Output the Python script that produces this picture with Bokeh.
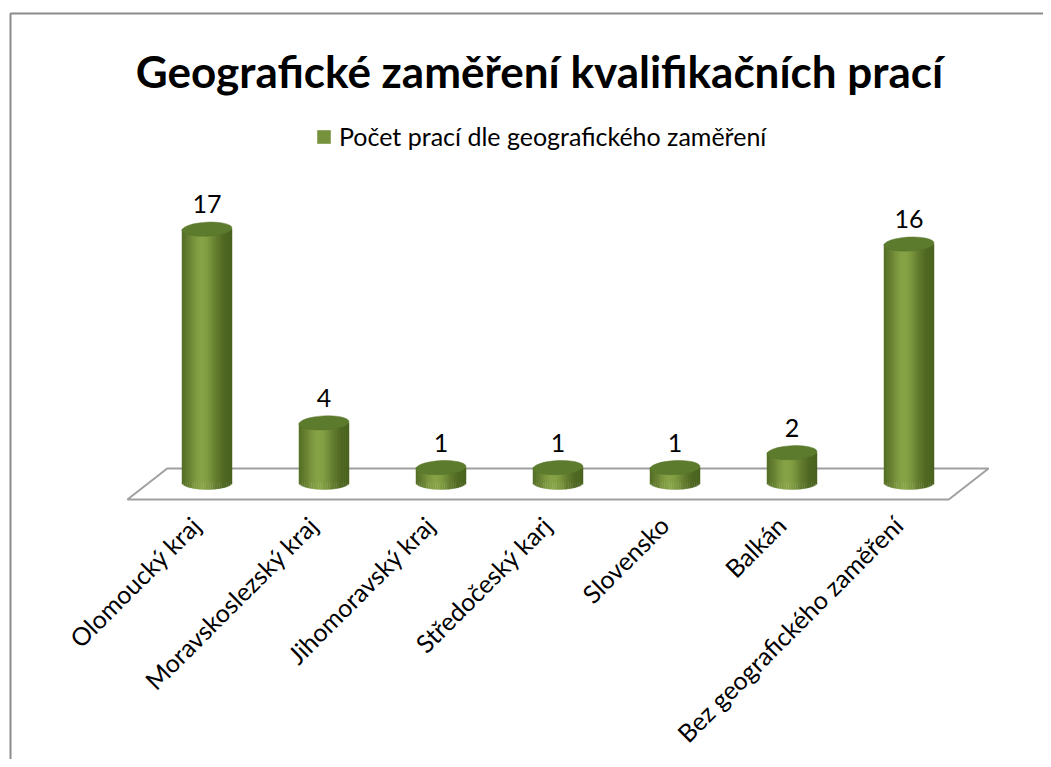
import numpy as np
from math import pi
from bokeh.plotting import figure
from bokeh.core.properties import value
from bokeh.models import (ColumnDataSource, Label, LabelSet, Legend, LegendItem,
                          BoxAnnotation, Range1d)
from bokeh.embed import file_html
from bokeh.resources import INLINE

# ---------------- data ----------------
categories = ["Olomoucký kraj", "Moravskoslezský kraj", "Jihomoravský kraj",
              "Středočeský karj", "Slovensko", "Balkán",
              "Bez geografického zaměření"]
values = [17, 4, 1, 1, 1, 2, 16]
series_name = "Počet prací dle geografického zaměření"
title_text = "Geografické zaměření kvalifikačních prací"

# ---------------- layout ----------------
W, H = 1043, 759
x0_px, dx_px = 206.5, 117.0      # figure x of first category, spacing
y0_px, dy_px = 482.0, 14.9       # figure y (from top) of value 0, px per unit

FONT = "Lato"

p = figure(width=W, height=H, output_backend="svg", toolbar_location=None,
           x_range=Range1d(-x0_px / dx_px, (W - x0_px) / dx_px),
           y_range=Range1d(-(H - y0_px) / dy_px, y0_px / dy_px),
           x_axis_type=None, y_axis_type=None, min_border=0,
           outline_line_color=None, background_fill_color="white",
           border_fill_color="white")

n = len(categories)
idx = np.arange(n, dtype=float)

# chart border (left and top edges visible)
p.add_layout(BoxAnnotation(left=10, right=W + 30, top=H - 13, bottom=-30,
                           left_units="screen", right_units="screen",
                           top_units="screen", bottom_units="screen",
                           fill_alpha=0, line_color="#8c8c8c", line_alpha=1.0,
                           line_width=2, level="underlay"))

# floor (3D base plane)
bar_w = 50.0 / dx_px
ell_h = 14.0 / dy_px
floor_back = 14.0 / dy_px
floor_front = -17.0 / dy_px
fx = [-0.68, -0.34, (n - 1) + 0.68, (n - 1) + 0.34]
fy = [floor_front, floor_back, floor_back, floor_front]
p.patch(fx, fy, fill_color="white", line_color="#a0a0a0", line_width=2)

# base bar renderer (used for legend glyph)
src = ColumnDataSource(dict(x=idx, top=values, lab=[str(v) for v in values],
                            cat=categories, zero=[0.0] * n))
base = p.vbar(x="x", top="top", bottom=0, width=bar_w, source=src,
              fill_color="#76923c", line_color=None)

# cylinder shading strips
N = 28
dark = np.array([72, 96, 30], dtype=float)
light = np.array([136, 164, 72], dtype=float)
sx, stop, sbot, scol = [], [], [], []
for i, v in enumerate(values):
    for k in range(N):
        t = (k + 0.5) / N * 2 - 1
        g = np.exp(-((t + 0.2) / 0.62) ** 2)
        c = dark + (light - dark) * g
        col = "#%02x%02x%02x" % tuple(int(round(q)) for q in c)
        sx.append(i + t * bar_w / 2)
        stop.append(v)
        sbot.append(-(ell_h / 2) * np.sqrt(max(0.0, 1 - t * t)))
        scol.append(col)
p.vbar(x=sx, top=stop, bottom=sbot, width=bar_w / N * 1.08, fill_color=scol,
       line_color=scol, line_width=0.3)

# top ellipses
p.ellipse(x="x", y="top", width=bar_w, height=ell_h, angle=0.05, source=src,
          fill_color="#5d7b2c", line_color="#56742a", line_width=0.5)

# data labels
p.add_layout(LabelSet(x="x", y="top", text="lab", source=src, y_offset=16,
                      text_align="center", text_baseline="alphabetic",
                      text_font=value(FONT), text_font_size="25px",
                      text_color="black"))

# category labels (rotated)
p.add_layout(LabelSet(x="x", y="zero", text="cat", source=src,
                      x_offset=-11, y_offset=-38, angle=pi / 4,
                      text_align="right", text_baseline="middle",
                      text_font=value(FONT), text_font_size="25px",
                      text_color="black"))

# title
p.add_layout(Label(x=539, y=H - 70, x_units="screen", y_units="screen",
                   text=title_text, text_align="center", text_baseline="middle",
                   text_font=FONT, text_font_style="bold", text_font_size="44px",
                   text_color="black"))

# legend
legend = Legend(items=[LegendItem(label=series_name, renderers=[base])],
                location=(315, H - 151), orientation="horizontal",
                border_line_color=None, background_fill_alpha=0,
                padding=0, margin=0, glyph_width=17, glyph_height=17,
                label_standoff=7, label_text_font=FONT,
                label_text_color="black",
                label_text_font_size="25px", label_height=17)
p.add_layout(legend)

open("out.html", "w").write(file_html(p, INLINE))
